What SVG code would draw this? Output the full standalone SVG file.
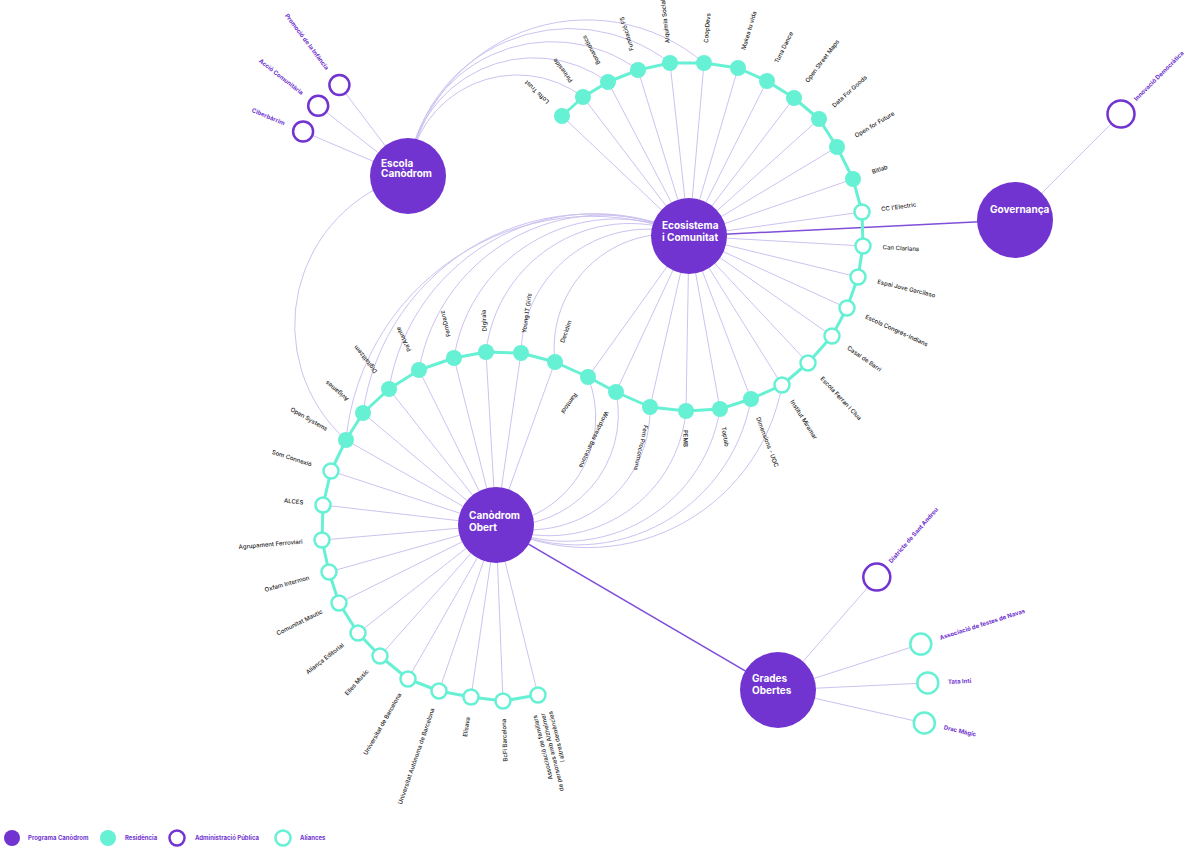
<svg xmlns="http://www.w3.org/2000/svg" width="1184" height="850" viewBox="0 0 1184 850">
<style>
.hub{fill:#7234d0}
.res{fill:#66f0d4}
.ali{fill:#fff;stroke:#66f0d4;stroke-width:2.5}
.adm{fill:#fff;stroke:#7234d0;stroke-width:2.5}
.e{stroke:#cdc2f0;stroke-width:1;fill:none}
.hl{stroke:#7f4fd8;stroke-width:1.5;fill:none}
.chain{stroke:#66f0d4;stroke-width:3;fill:none;stroke-linejoin:round}
.l{font-family:Inter,"Liberation Sans",sans-serif;font-size:6px;font-weight:500;fill:#1d1d1d}
.f{text-anchor:end}
.p{font-family:Inter,"Liberation Sans",sans-serif;font-size:6px;font-weight:700;fill:#7234d0}
.ht{font-family:Inter,"Liberation Sans",sans-serif;font-size:10px;font-weight:700;fill:#fff}
</style>
<rect width="1184" height="850" fill="#fff"/>
<g id="connectors">
<path class="e" d="M408 176 A109.4 109.4 0 0 1 583 97"/>
<path class="e" d="M408 176 A126 126 0 0 1 608 82"/>
<path class="e" d="M408 176 A144.4 144.4 0 0 1 638 70"/>
<path class="e" d="M408 176 A162.6 162.6 0 0 1 670 63"/>
<path class="e" d="M408 176 A180.6 180.6 0 0 1 704 63"/>
<path class="e" d="M408 176 A154.6 154.6 0 0 0 346 440"/>
<line class="e" x1="408" y1="176" x2="339.4" y2="85"/>
<line class="e" x1="408" y1="176" x2="318.2" y2="105.8"/>
<line class="e" x1="408" y1="176" x2="303.1" y2="131.5"/>
<path class="e" d="M689 236 A114 114 0 0 0 555 362"/>
<path class="e" d="M689 236 A126.9 126.9 0 0 0 521 353"/>
<path class="e" d="M689 236 A145 145 0 0 0 486 352"/>
<path class="e" d="M689 236 A164.2 164.2 0 0 0 454 358"/>
<path class="e" d="M689 236 A186.9 186.9 0 0 0 419 370"/>
<path class="e" d="M689 236 A208.8 208.8 0 0 0 389 389"/>
<path class="e" d="M689 236 A230 230 0 0 0 363 413"/>
<path class="e" d="M689 236 A247.4 247.4 0 0 0 346 440"/>
<path class="e" d="M496 525 A108.1 108.1 0 0 0 588 377"/>
<path class="e" d="M496 525 A111 111 0 0 0 616 392"/>
<path class="e" d="M496 525 A120.3 120.3 0 0 0 650 407"/>
<path class="e" d="M496 525 A137.4 137.4 0 0 0 686 411"/>
<path class="e" d="M496 525 A156.4 156.4 0 0 0 720 409"/>
<path class="e" d="M496 525 A176.3 176.3 0 0 0 751 399"/>
<path class="e" d="M496 525 A197.4 197.4 0 0 0 782 385"/>
<g class="e">
<line x1="689" y1="236" x2="562" y2="116"/><line x1="689" y1="236" x2="583" y2="97"/><line x1="689" y1="236" x2="608" y2="82"/>
<line x1="689" y1="236" x2="638" y2="70"/><line x1="689" y1="236" x2="670" y2="63"/><line x1="689" y1="236" x2="704" y2="63"/>
<line x1="689" y1="236" x2="738" y2="68"/><line x1="689" y1="236" x2="767" y2="81"/><line x1="689" y1="236" x2="794" y2="98"/>
<line x1="689" y1="236" x2="819" y2="119"/><line x1="689" y1="236" x2="837" y2="147"/><line x1="689" y1="236" x2="853" y2="179"/>
<line x1="689" y1="236" x2="862" y2="212"/><line x1="689" y1="236" x2="863" y2="246"/><line x1="689" y1="236" x2="858" y2="277"/>
<line x1="689" y1="236" x2="847" y2="308"/><line x1="689" y1="236" x2="832" y2="336"/><line x1="689" y1="236" x2="808" y2="363"/>
<line x1="689" y1="236" x2="782" y2="385"/><line x1="689" y1="236" x2="751" y2="399"/><line x1="689" y1="236" x2="720" y2="409"/>
<line x1="689" y1="236" x2="686" y2="411"/><line x1="689" y1="236" x2="650" y2="407"/><line x1="689" y1="236" x2="616" y2="392"/>
<line x1="689" y1="236" x2="588" y2="377"/>
</g>
<g class="e">
<line x1="496" y1="525" x2="555" y2="362"/><line x1="496" y1="525" x2="521" y2="353"/><line x1="496" y1="525" x2="486" y2="352"/>
<line x1="496" y1="525" x2="454" y2="358"/><line x1="496" y1="525" x2="419" y2="370"/><line x1="496" y1="525" x2="389" y2="389"/>
<line x1="496" y1="525" x2="363" y2="413"/><line x1="496" y1="525" x2="346" y2="440"/><line x1="496" y1="525" x2="331" y2="471"/>
<line x1="496" y1="525" x2="323" y2="505"/><line x1="496" y1="525" x2="322" y2="540"/><line x1="496" y1="525" x2="329" y2="572"/>
<line x1="496" y1="525" x2="339" y2="603"/><line x1="496" y1="525" x2="358" y2="633"/><line x1="496" y1="525" x2="380" y2="656"/>
<line x1="496" y1="525" x2="408" y2="679"/><line x1="496" y1="525" x2="439" y2="691"/><line x1="496" y1="525" x2="471" y2="697"/>
<line x1="496" y1="525" x2="503" y2="701"/><line x1="496" y1="525" x2="538" y2="695"/>
</g>
<line class="e" x1="1015" y1="220" x2="1121" y2="114"/>
<line class="e" x1="778" y1="690" x2="876.8" y2="577.1"/>
<line class="e" x1="778" y1="690" x2="920.8" y2="644.1"/>
<line class="e" x1="778" y1="690" x2="927.8" y2="682.9"/>
<line class="e" x1="778" y1="690" x2="924.3" y2="723"/>
<line class="hl" x1="689" y1="236" x2="1015" y2="220"/>
<line class="hl" x1="496" y1="525" x2="778" y2="690"/>
<polyline class="chain" points="562,116 583,97 608,82 638,70 670,63 704,63 738,68 767,81 794,98 819,119 837,147 853,179 862,212 863,246 858,277 847,308 832,336 808,363 782,385 751,399 720,409 686,411 650,407 616,392 588,377 555,362 521,353 486,352 454,358 419,370 389,389 363,413 346,440 331,471 323,505 322,540 329,572 339,603 358,633 380,656 408,679 439,691 471,697 503,701 538,695"/>
</g>
<g id="hub-escola"><circle class="hub" cx="408" cy="176" r="38"/><text class="ht" x="381" y="166.7">Escola</text><text class="ht" x="381" y="177">Canòdrom</text></g>
<g id="hub-ecosistema"><circle class="hub" cx="689" cy="236" r="38"/><text class="ht" x="662" y="229">Ecosistema</text><text class="ht" x="662" y="240.5">i Comunitat</text></g>
<g id="hub-governanca"><circle class="hub" cx="1015" cy="220" r="38"/><text class="ht" x="990" y="213">Governança</text></g>
<g id="hub-obert"><circle class="hub" cx="496" cy="525" r="38"/><text class="ht" x="469" y="519">Canòdrom</text><text class="ht" x="469" y="530.5">Obert</text></g>
<g id="hub-grades"><circle class="hub" cx="778" cy="690" r="38"/><text class="ht" x="752" y="682">Grades</text><text class="ht" x="752" y="693.5">Obertes</text></g>
<g id="n-promocio"><circle class="adm" cx="339.4" cy="85" r="10"/><text class="p f" x="274" y="178" transform="rotate(53 408 176)">Promoció de la Infància</text></g>
<g id="n-accio"><circle class="adm" cx="318.2" cy="105.8" r="10"/><text class="p f" x="274" y="178" transform="rotate(38 408 176)">Acció Comunitària</text></g>
<g id="n-ciber"><circle class="adm" cx="303.1" cy="131.5" r="10"/><text class="p f" x="274" y="178" transform="rotate(23 408 176)">Ciberbàrrim</text></g>
<g id="n-innovacio"><circle class="adm" cx="1121" cy="114" r="13.5"/><text class="p" x="1185" y="222" transform="rotate(-45 1015 220)">Innovació Democràtica</text></g>
<g id="n-districte"><circle class="adm" cx="876.8" cy="577.1" r="13.5"/><text class="p" x="948" y="692" transform="rotate(-48.8 778 690)">Districte de Sant Andreu</text></g>
<g id="n-navas"><circle class="ali" cx="920.8" cy="644.1" r="10.5"/><text class="p" x="948" y="692" transform="rotate(-17.8 778 690)">Associació de festes de Navas</text></g>
<g id="n-tata"><circle class="ali" cx="927.8" cy="682.9" r="10.5"/><text class="p" x="948" y="692" transform="rotate(-2.7 778 690)">Tata Inti</text></g>
<g id="n-drac"><circle class="ali" cx="924.3" cy="723" r="10.5"/><text class="p" x="948" y="692" transform="rotate(12.7 778 690)">Drac Màgic</text></g>
<g id="n-lofts"><circle class="res" cx="562" cy="116" r="8"/><text class="l" x="883" y="238" transform="rotate(-136.6 689 236)">Lofts Trust</text></g>
<g id="n-pirineside"><circle class="res" cx="583" cy="97" r="8"/><text class="l" x="883" y="238" transform="rotate(-127.3 689 236)">Pirineside</text></g>
<g id="n-bonanotics"><circle class="res" cx="608" cy="82" r="8"/><text class="l" x="883" y="238" transform="rotate(-117.7 689 236)">Bonanotics</text></g>
<g id="n-f5"><circle class="res" cx="638" cy="70" r="8"/><text class="l" x="883" y="238" transform="rotate(-107.1 689 236)">Fundació F5</text></g>
<g id="n-alquimia"><circle class="res" cx="670" cy="63" r="8"/><text class="l" x="883" y="238" transform="rotate(-96.3 689 236)">Alquimia Social</text></g>
<g id="n-coopdevs"><circle class="res" cx="704" cy="63" r="8"/><text class="l" x="883" y="238" transform="rotate(-85 689 236)">CoopDevs</text></g>
<g id="n-makea"><circle class="res" cx="738" cy="68" r="8"/><text class="l" x="883" y="238" transform="rotate(-73.7 689 236)">Makea tu vida</text></g>
<g id="n-tuna"><circle class="res" cx="767" cy="81" r="8"/><text class="l" x="883" y="238" transform="rotate(-63.3 689 236)">Tuna Dance</text></g>
<g id="n-osm"><circle class="res" cx="794" cy="98" r="8"/><text class="l" x="883" y="238" transform="rotate(-52.7 689 236)">Open Street Maps</text></g>
<g id="n-dfg"><circle class="res" cx="819" cy="119" r="8"/><text class="l" x="883" y="238" transform="rotate(-42 689 236)">Data For Goods</text></g>
<g id="n-off"><circle class="res" cx="837" cy="147" r="8"/><text class="l" x="883" y="238" transform="rotate(-31 689 236)">Open for Future</text></g>
<g id="n-bitlab"><circle class="res" cx="853" cy="179" r="8"/><text class="l" x="883" y="238" transform="rotate(-19.2 689 236)">Bitlab</text></g>
<g id="n-cc"><circle class="ali" cx="862" cy="212" r="7.5"/><text class="l" x="883" y="238" transform="rotate(-7.9 689 236)">CC l'Electric</text></g>
<g id="n-clarians"><circle class="ali" cx="863" cy="246" r="7.5"/><text class="l" x="883" y="238" transform="rotate(3.3 689 236)">Can Clarians</text></g>
<g id="n-garcilaso"><circle class="ali" cx="858" cy="277" r="7.5"/><text class="l" x="883" y="238" transform="rotate(13.6 689 236)">Espai Jove Garcilaso</text></g>
<g id="n-congres"><circle class="ali" cx="847" cy="308" r="7.5"/><text class="l" x="883" y="238" transform="rotate(24.5 689 236)">Escola Congrés-Indians</text></g>
<g id="n-casal"><circle class="ali" cx="832" cy="336" r="7.5"/><text class="l" x="883" y="238" transform="rotate(35 689 236)">Casal de Barri</text></g>
<g id="n-ferran"><circle class="ali" cx="808" cy="363" r="7.5"/><text class="l" x="883" y="238" transform="rotate(46.9 689 236)">Escola Ferran i Clua</text></g>
<g id="n-miramar"><circle class="ali" cx="782" cy="385" r="7.5"/><text class="l" x="883" y="238" transform="rotate(58 689 236)">Institut Miramar</text></g>
<g id="n-dimensions"><circle class="res" cx="751" cy="399" r="8"/><text class="l" x="883" y="238" transform="rotate(69.2 689 236)">Dimensions - UOC</text></g>
<g id="n-toptab"><circle class="res" cx="720" cy="409" r="8"/><text class="l" x="883" y="238" transform="rotate(79.8 689 236)">Toptab</text></g>
<g id="n-pemb"><circle class="res" cx="686" cy="411" r="8"/><text class="l" x="883" y="238" transform="rotate(91 689 236)">PEMB</text></g>
<g id="n-fem"><circle class="res" cx="650" cy="407" r="8"/><text class="l" x="883" y="238" transform="rotate(102.8 689 236)">Fem Procomuns</text></g>
<g id="n-wordpress"><circle class="res" cx="616" cy="392" r="8"/><text class="l" x="883" y="238" transform="rotate(115.1 689 236)">Wordpress Barcelona</text></g>
<g id="n-ramtool"><circle class="res" cx="588" cy="377" r="8"/><text class="l" x="883" y="238" transform="rotate(125.6 689 236)">Ramtool</text></g>
<g id="n-decidim"><circle class="res" cx="555" cy="362" r="8"/><text class="l" x="690" y="527" transform="rotate(-70.1 496 525)">Decidim</text></g>
<g id="n-young"><circle class="res" cx="521" cy="353" r="8"/><text class="l" x="690" y="527" transform="rotate(-81.7 496 525)">Young IT Girls</text></g>
<g id="n-digiraia"><circle class="res" cx="486" cy="352" r="8"/><text class="l" x="690" y="527" transform="rotate(-93.3 496 525)">Digiraia</text></g>
<g id="n-femdanz"><circle class="res" cx="454" cy="358" r="8"/><text class="l" x="690" y="527" transform="rotate(-104.1 496 525)">FemDanz</text></g>
<g id="n-paalante"><circle class="res" cx="419" cy="370" r="8"/><text class="l" x="690" y="527" transform="rotate(-116.4 496 525)">Pa'Alante</text></g>
<g id="n-digitalitzem"><circle class="res" cx="389" cy="389" r="8"/><text class="l" x="690" y="527" transform="rotate(-128.2 496 525)">Digitalitzem</text></g>
<g id="n-avigames"><circle class="res" cx="363" cy="413" r="8"/><text class="l" x="690" y="527" transform="rotate(-139.9 496 525)">Avigames</text></g>
<g id="n-opensystems"><circle class="res" cx="346" cy="440" r="8"/><text class="l f" x="302" y="527" transform="rotate(29.5 496 525)">Open Systems</text></g>
<g id="n-som"><circle class="ali" cx="331" cy="471" r="7.5"/><text class="l f" x="302" y="527" transform="rotate(18.1 496 525)">Som Connexió</text></g>
<g id="n-alces"><circle class="ali" cx="323" cy="505" r="7.5"/><text class="l f" x="302" y="527" transform="rotate(6.6 496 525)">ALCES</text></g>
<g id="n-agrupament"><circle class="ali" cx="322" cy="540" r="7.5"/><text class="l f" x="302" y="527" transform="rotate(-4.9 496 525)">Agrupament Ferroviari</text></g>
<g id="n-oxfam"><circle class="ali" cx="329" cy="572" r="7.5"/><text class="l f" x="302" y="527" transform="rotate(-15.7 496 525)">Oxfam Intermon</text></g>
<g id="n-mautic"><circle class="ali" cx="339" cy="603" r="7.5"/><text class="l f" x="302" y="527" transform="rotate(-26.4 496 525)">Comunitat Mautic</text></g>
<g id="n-alianca"><circle class="ali" cx="358" cy="633" r="7.5"/><text class="l f" x="302" y="527" transform="rotate(-38 496 525)">Aliança Editorial</text></g>
<g id="n-elles"><circle class="ali" cx="380" cy="656" r="7.5"/><text class="l f" x="302" y="527" transform="rotate(-48.5 496 525)">Elles Music</text></g>
<g id="n-ub"><circle class="ali" cx="408" cy="679" r="7.5"/><text class="l f" x="302" y="527" transform="rotate(-60.3 496 525)">Universitat de Barcelona</text></g>
<g id="n-uab"><circle class="ali" cx="439" cy="691" r="7.5"/><text class="l f" x="302" y="527" transform="rotate(-71 496 525)">Universitat Autònoma de Barcelona</text></g>
<g id="n-elisava"><circle class="ali" cx="471" cy="697" r="7.5"/><text class="l f" x="302" y="527" transform="rotate(-81.7 496 525)">Elisava</text></g>
<g id="n-bcfi"><circle class="ali" cx="503" cy="701" r="7.5"/><text class="l f" x="302" y="527" transform="rotate(-92.3 496 525)">BcFi Barcelona</text></g>
<g id="n-associacio"><circle class="ali" cx="538" cy="695" r="7.5"/><text class="l f" transform="rotate(-103.9 496 525)"><tspan x="302" y="519">Associació de familiars</tspan><tspan x="302" y="527">de persones amb Alzheimer</tspan><tspan x="302" y="535">i altres demències</tspan></text></g>
<g id="legend">
<circle class="hub" cx="12" cy="838" r="8"/><text class="p" x="28" y="840">Programa Canòdrom</text>
<circle class="res" cx="108" cy="838" r="8"/><text class="p" x="125" y="840">Residència</text>
<circle class="adm" cx="177" cy="838" r="7.5"/><text class="p" x="195" y="840">Administració Pública</text>
<circle class="ali" cx="283" cy="838" r="7.5"/><text class="p" x="300" y="840">Aliances</text>
</g>
</svg>
